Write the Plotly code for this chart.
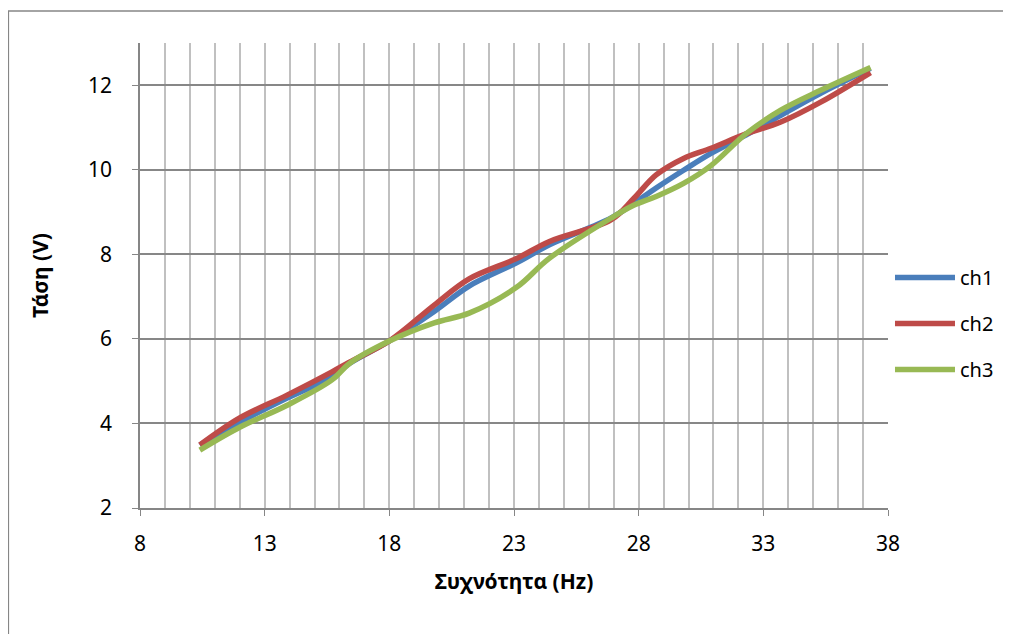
import plotly.graph_objects as go

freq = [10.4, 12.0, 13.9, 15.7, 16.4, 18.0, 19.8, 21.2, 23.1, 24.4, 26.9, 27.8, 28.7, 29.8, 30.9, 32.3, 33.7, 35.3, 37.3]
ch1 = [3.49, 4.03, 4.60, 5.10, 5.42, 5.95, 6.65, 7.25, 7.80, 8.22, 8.86, 9.20, 9.57, 9.99, 10.39, 10.82, 11.29, 11.81, 12.40]
ch2 = [3.49, 4.13, 4.67, 5.22, 5.45, 5.95, 6.80, 7.42, 7.90, 8.30, 8.82, 9.32, 9.88, 10.27, 10.51, 10.85, 11.13, 11.60, 12.30]
ch3 = [3.37, 3.91, 4.43, 5.03, 5.42, 5.95, 6.38, 6.61, 7.22, 7.90, 8.86, 9.16, 9.37, 9.68, 10.10, 10.85, 11.41, 11.88, 12.42]

series = [("ch1", ch1, "#4A7EBB"), ("ch2", ch2, "#BE4B48"), ("ch3", ch3, "#98B954")]

FONT = "'Noto Sans', 'Open Sans', sans-serif"

fig = go.Figure()
for name, ys, col in series:
    fig.add_trace(go.Scatter(
        x=freq, y=ys, name=name, mode="lines",
        line=dict(color=col, width=5.5, shape="spline", smoothing=1.0),
        legendgroup=name,
    ))

# page has an 8px body margin; figure is sized so that the plot lands where the reference has it
W, H = 1003, 626
L, T = 132, 35
R = W - 882
B = H - 500
pw, ph = W - L - R, H - T - B

fig.update_layout(
    width=W, height=H,
    margin=dict(l=L, r=R, t=T, b=B),
    paper_bgcolor="white", plot_bgcolor="white",
    font=dict(family=FONT, size=20, color="black"),
    showlegend=True,
    legend=dict(x=(884 - L) / pw, y=(500 - 250) / ph, xanchor="left", yanchor="top",
                tracegroupgap=17, font=dict(size=20), bgcolor="rgba(0,0,0,0)",
                itemwidth=60),
    xaxis=dict(range=[8, 38], tick0=8, dtick=5, showgrid=True, gridcolor="#C0C0C0", gridwidth=1.6,
               minor=dict(dtick=1, showgrid=True, gridcolor="#C0C0C0", gridwidth=1.6),
               showline=True, linecolor="#868686", linewidth=1.6, ticks="outside", ticklen=6,
               tickcolor="#868686", zeroline=False, ticklabelstandoff=10,
               tickfont=dict(size=21),
               title=dict(text="<b>Συχνότητα (Hz)</b>", standoff=18, font=dict(size=21))),
    yaxis=dict(range=[2, 13], tick0=2, dtick=2, showgrid=True, gridcolor="#878787", gridwidth=1.6,
               showline=True, linecolor="#868686", linewidth=1.6, ticks="outside", ticklen=6,
               tickcolor="#868686", zeroline=False, ticklabelstandoff=16,
               tickfont=dict(size=21),
               title=dict(text="<b>Τάση (V)</b>", standoff=34, font=dict(size=21))),
)

fig.add_shape(type="rect", xref="paper", yref="paper",
              x0=(0 - L) / pw, x1=2, y0=-1, y1=(500 - 3) / ph,
              line=dict(color="#868686", width=1.5), fillcolor="rgba(0,0,0,0)", layer="below")

fig.write_html("out.html")
